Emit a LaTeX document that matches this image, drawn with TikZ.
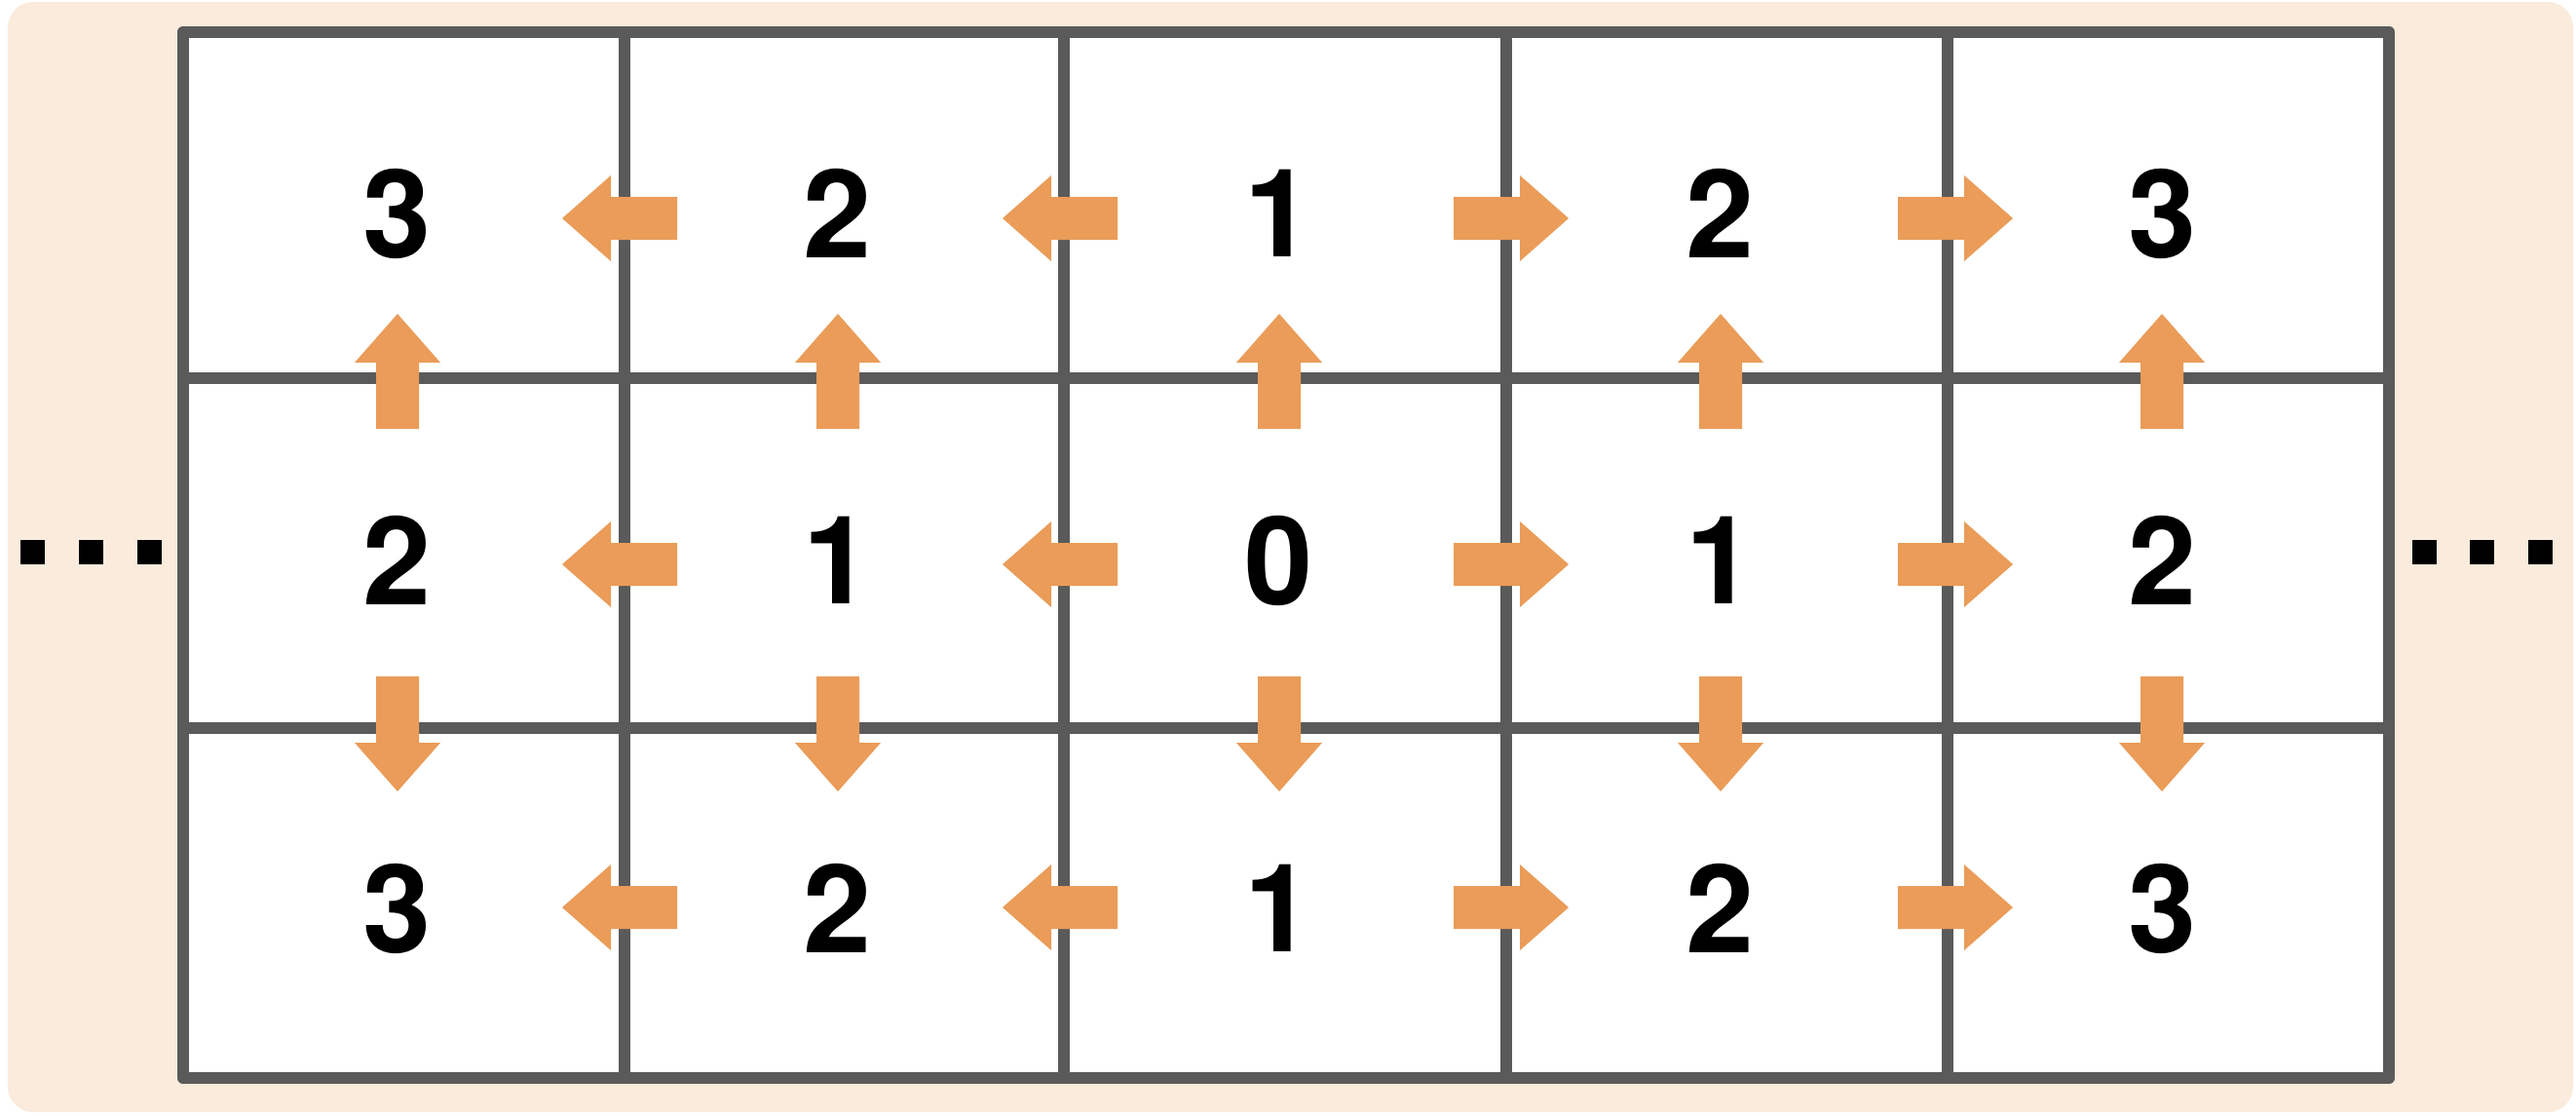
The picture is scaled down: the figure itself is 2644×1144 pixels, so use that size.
\documentclass[tikz,border=0pt]{standalone}
\usepackage{fontspec}
\setmainfont{TeX Gyre Heros}
\definecolor{bgpeach}{HTML}{FAEBDC}
\definecolor{gridgray}{HTML}{5A5A5A}
\definecolor{arroworange}{HTML}{EA9C58}
\tikzset{
  gridline/.style={draw=gridgray, line width=12.5pt},
  digit/.style={inner sep=0pt, font=\fontsize{126}{126}\bfseries\selectfont, text=black},
  dotsq/.style={fill=black},
  blockarrow/.pic={
    \fill[arroworange] (0,0) -- (-50,44) -- (-50,22) -- (-118,22) -- (-118,-22) -- (-50,-22) -- (-50,-44) -- cycle;
  }
}
\begin{document}
\begin{tikzpicture}[x=1pt,y=-1pt]
\useasboundingbox (0,0) rectangle (2644,1144);
% background
\fill[bgpeach, rounded corners=26pt] (8,2) rectangle (2641,1141);
% grid
\fill[white] (188,33) rectangle (2452,1106);
\foreach \x in {641,1092,1546,1999} \draw[gridline] (\x,33) -- (\x,1106);
\foreach \y in {388,747} \draw[gridline] (188,\y) -- (2452,\y);
\draw[gridline, line join=round] (188,33) rectangle (2452,1106);
% digits
\foreach \c/\x in {1/408,2/860,3/1313,4/1766,5/2219}{
  \foreach \r/\y in {1/219,2/575,3/932}{
    \pgfmathtruncatemacro{\v}{abs(\c-3)+abs(\r-2)}
    \node[digit] (d\r\c) at (\x,\y) {\v};
  }
}
% horizontal arrows
\foreach \y in {224,579,931}{
  \pic[rotate=180] at (577,\y) {blockarrow};
  \pic[rotate=180] at (1029,\y) {blockarrow};
  \pic at (1610,\y) {blockarrow};
  \pic at (2066,\y) {blockarrow};
}
% vertical arrows
\foreach \x in {408,860,1313,1766,2219}{
  \pic[rotate=90] at (\x,322) {blockarrow};
  \pic[rotate=-90] at (\x,812) {blockarrow};
}
% dots
\foreach \x in {21,81,141,2476,2535,2595}
  \fill[dotsq] (\x,554) rectangle ++(25,25);
\end{tikzpicture}
\end{document}
